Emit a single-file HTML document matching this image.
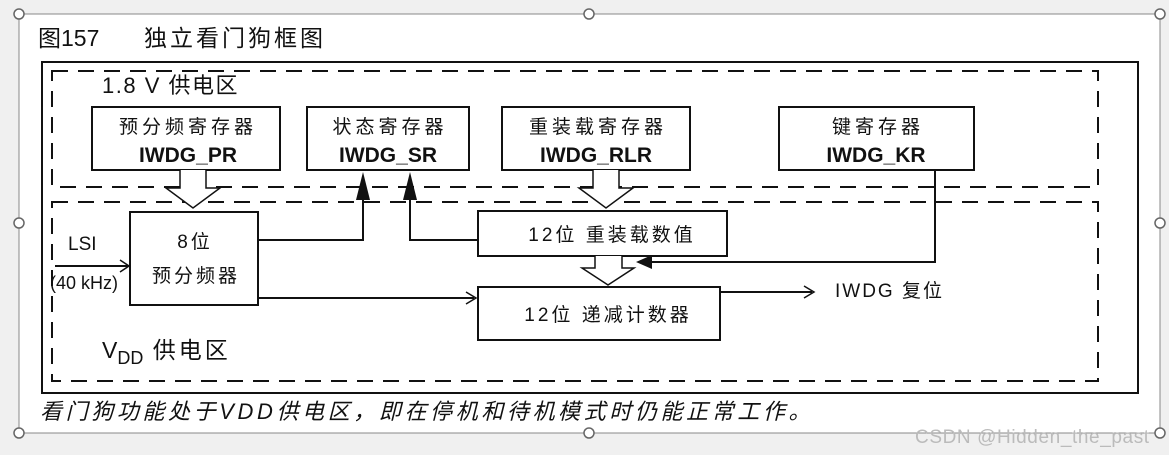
<!DOCTYPE html>
<html><head><meta charset="utf-8"><style>
html,body{margin:0;padding:0;background:#f0f0f0;width:1169px;height:455px;overflow:hidden}
svg{display:block}
text{font-family:"Liberation Sans","Noto Sans CJK SC",sans-serif;fill:#111}
</style></head><body>
<svg width="1169" height="455" viewBox="0 0 1169 455" xmlns="http://www.w3.org/2000/svg">
<rect x="19" y="14" width="1141" height="419" fill="#fff" stroke="#888" stroke-width="1"/>
<g fill="#fff" stroke="#666" stroke-width="1.5">
<circle cx="19" cy="14" r="5"/><circle cx="589" cy="14" r="5"/><circle cx="1160" cy="14" r="5"/>
<circle cx="19" cy="223" r="5"/><circle cx="1160" cy="223" r="5"/>
<circle cx="19" cy="433" r="5"/><circle cx="589" cy="433" r="5"/><circle cx="1160" cy="433" r="5"/>
</g>
<text x="38" y="46" font-size="23">图157</text>
<text x="144" y="46" font-size="23" letter-spacing="3">独立看门狗框图</text>
<rect x="42" y="62" width="1096" height="331" fill="none" stroke="#111" stroke-width="2"/>
<g fill="none" stroke="#111" stroke-width="2" stroke-dasharray="16,10">
<rect x="52" y="71" width="1046" height="116"/>
<rect x="52" y="202" width="1046" height="179"/>
</g>
<text x="102" y="93" font-size="22" letter-spacing="1.5">1.8 V 供电区</text>
<g fill="#fff" stroke="#111" stroke-width="2">
<rect x="92" y="107" width="188" height="63"/>
<rect x="307" y="107" width="162" height="63"/>
<rect x="502" y="107" width="188" height="63"/>
<rect x="779" y="107" width="195" height="63"/>
<rect x="130" y="212" width="128" height="93"/>
<rect x="478" y="211" width="249" height="45"/>
<rect x="478" y="287" width="242" height="53"/>
</g>
<g font-size="19" text-anchor="middle" letter-spacing="4">
<text x="188" y="133">预分频寄存器</text>
<text x="390" y="133">状态寄存器</text>
<text x="598" y="133">重装载寄存器</text>
<text x="878" y="133">键寄存器</text>
</g>
<g font-size="21" font-weight="bold" text-anchor="middle">
<text x="188" y="162">IWDG_PR</text>
<text x="388" y="162">IWDG_SR</text>
<text x="596" y="162">IWDG_RLR</text>
<text x="876" y="162">IWDG_KR</text>
</g>
<g font-size="19" text-anchor="middle" letter-spacing="3">
<text x="195" y="248">8位</text>
<text x="196" y="282">预分频器</text>
<text x="612" y="241">12位 重装载数值</text>
<text x="608" y="321">12位 递减计数器</text>
</g>
<g fill="#fff" stroke="#111" stroke-width="1.5">
<path d="M180 170 V188 H166 L193 208 L220 188 H206 V170"/>
<path d="M593 170 V188 H579 L606 208 L633 188 H619 V170"/>
<path d="M595 256 V268 H582 L608 285 L634 268 H622 V256"/>
</g>
<g fill="none" stroke="#111" stroke-width="2">
<path d="M258 240 H363 V198"/>
<path d="M478 240 H410 V198"/>
<path d="M935 170 V262 H650"/>
<path d="M258 298 H474"/>
<path d="M55 266 H128"/>
<path d="M720 292 H812"/>
</g>
<g fill="none" stroke="#111" stroke-width="1.5">
<path d="M466 292 L476 298 L466 304"/>
<path d="M120 260 L129 266 L120 272"/>
<path d="M804 286 L814 292 L804 298"/>
</g>
<g fill="#111">
<path d="M356 200 L363 172 L370 200Z"/>
<path d="M403 200 L410 172 L417 200Z"/>
<path d="M636 262 L652 255 L652 269Z"/>
</g>
<text x="68" y="250" font-size="19">LSI</text>
<text x="50" y="289" font-size="18">(40 kHz)</text>
<text x="835" y="297" font-size="19" letter-spacing="2">IWDG 复位</text>
<text x="102" y="358" font-size="23">V<tspan font-size="18" dy="6">DD</tspan><tspan dy="-6" letter-spacing="3"> 供电区</tspan></text>
<text x="40" y="419" font-size="22" font-style="italic" letter-spacing="3.6">看门狗功能处于VDD供电区，即在停机和待机模式时仍能正常工作。</text>
<text x="915" y="443" font-size="19" letter-spacing="0.6" style="fill:#bbb">CSDN @Hidden_the_past</text>
</svg>
</body></html>
